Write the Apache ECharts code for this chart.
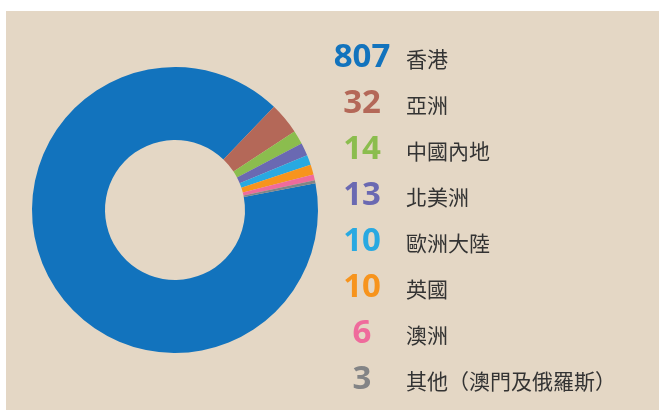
<!DOCTYPE html>
<html>
<head>
<meta charset="utf-8">
<script src="https://cdn.jsdelivr.net/npm/echarts@6/dist/echarts.min.js"></script>
<style>
  html, body { margin: 0; padding: 0; background: #fff; }
  #chart { width: 659px; height: 410px; }
</style>
</head>
<body>
<div id="chart"></div>
<script>
// 數據
var regions = ['香港', '亞洲', '中國內地', '北美洲', '歐洲大陸', '英國', '澳洲', '其他（澳門及俄羅斯）'];
var counts = [807, 32, 14, 13, 10, 10, 6, 3];
var colors = ['#1273bd', '#b46858', '#8bbd4e', '#6a69b2', '#29a9e1', '#f7941d', '#ef6b9c', '#838486'];

var chart = echarts.init(document.getElementById('chart'));

var rich = {
    lbl: {
        fontFamily: '"Noto Sans CJK TC", sans-serif',
        fontSize: 21,
        color: '#333',
        padding: [4, 0, 0, 14]
    }
};
colors.forEach(function (c, i) {
    rich['n' + i] = {
        fontFamily: '"Open Sans", sans-serif',
        fontWeight: 'bold',
        fontSize: 33,
        color: c,
        width: 60,
        align: 'right'
    };
});

chart.setOption({
    backgroundColor: '#fff',
    color: colors,
    graphic: [{
        type: 'rect',
        z: -10,
        shape: { x: 6, y: 11, width: 660, height: 410 },
        style: { fill: '#e4d7c5' }
    }],
    legend: {
        orient: 'vertical',
        left: 322,
        top: 36,
        icon: 'none',
        itemWidth: 0,
        itemHeight: 0,
        itemGap: 13,
        selectedMode: false,
        data: regions,
        formatter: function (name) {
            var i = regions.indexOf(name);
            return '{n' + i + '|' + counts[i] + '}{lbl|' + name + '}';
        },
        textStyle: { rich: rich }
    },
    series: [{
        type: 'pie',
        radius: [70, 143],
        center: [175, 210],
        startAngle: 10.8,
        clockwise: true,
        label: { show: false },
        labelLine: { show: false },
        emphasis: { disabled: true },
        silent: true,
        animation: false,
        data: regions.map(function (r, i) {
            return { name: r, value: counts[i] };
        })
    }]
});
</script>
</body>
</html>
